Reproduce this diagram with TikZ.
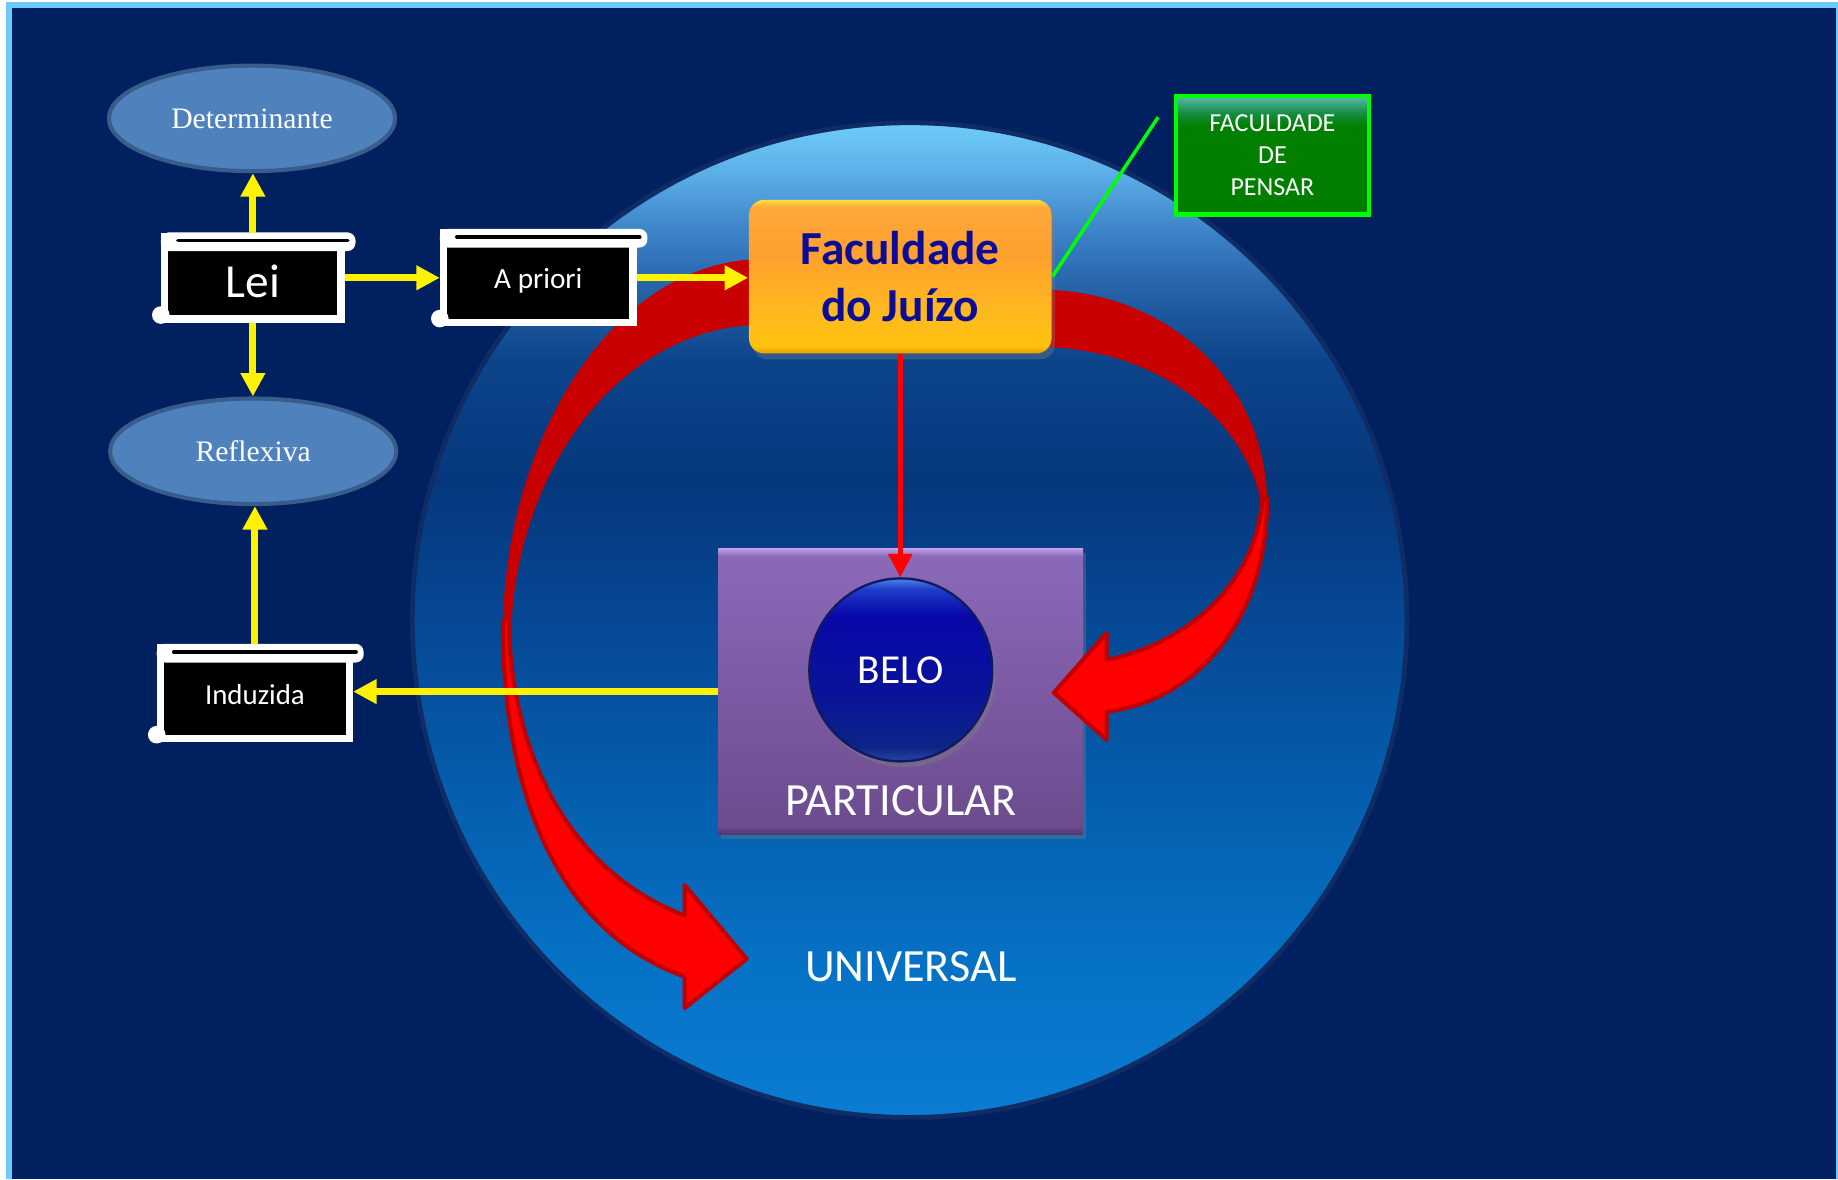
\documentclass[tikz,border=0pt]{standalone}
\usepackage{fontspec}
\setmainfont{Carlito}
\newfontfamily\ovalfont{Liberation Serif}
\usetikzlibrary{arrows.meta, positioning, shapes.geometric, shadows}

\definecolor{navybg}{RGB}{0,32,96}
\definecolor{framebl}{RGB}{110,200,250}
\definecolor{ovalfill}{RGB}{79,129,189}
\definecolor{ovalrim}{RGB}{56,93,138}
\definecolor{facblue}{RGB}{12,12,150}
\definecolor{rimblue}{RGB}{15,45,100}
\definecolor{darkred}{RGB}{200,0,0}
\definecolor{redrim}{RGB}{192,0,0}
\definecolor{lime}{RGB}{0,255,0}
\definecolor{beloRim}{RGB}{16,26,96}
% disc colours, bottom to top
\definecolor{dA}{RGB}{10,124,210}
\definecolor{dB}{RGB}{6,114,198}
\definecolor{dC}{RGB}{5,97,177}
\definecolor{dD}{RGB}{6,72,149}
\definecolor{dE}{RGB}{6,55,124}
\definecolor{dF}{RGB}{12,68,138}
\definecolor{dG}{RGB}{36,97,166}
\definecolor{dH}{RGB}{60,130,200}
\definecolor{dI}{RGB}{92,175,232}
\definecolor{dJ}{RGB}{111,204,249}
\pgfdeclareverticalshading{discshade}{100bp}{color(0bp)=(dA); color(25bp)=(dA);
  color(32.5bp)=(dB); color(40bp)=(dC); color(50bp)=(dD); color(57bp)=(dE);
  color(63bp)=(dF); color(66.5bp)=(dG); color(69.5bp)=(dH); color(72.5bp)=(dI);
  color(75bp)=(dJ); color(100bp)=(dJ)}
\definecolor{fA}{RGB}{230,160,0}
\definecolor{fB}{RGB}{255,194,14}
\definecolor{fC}{RGB}{255,186,30}
\definecolor{fD}{RGB}{255,160,46}
\definecolor{fE}{RGB}{255,168,58}
\definecolor{fF}{RGB}{255,224,64}
\pgfdeclareverticalshading{facshade}{100bp}{color(0bp)=(fA); color(25bp)=(fA);
  color(27.5bp)=(fB); color(37.5bp)=(fC); color(57.5bp)=(fD); color(72.5bp)=(fE);
  color(75bp)=(fF); color(100bp)=(fF)}
\definecolor{pA}{RGB}{80,52,112}
\definecolor{pB}{RGB}{108,76,142}
\definecolor{pC}{RGB}{139,105,185}
\definecolor{pD}{RGB}{192,160,238}
\pgfdeclareverticalshading{purpleshade}{100bp}{color(0bp)=(pA); color(25bp)=(pA);
  color(26.5bp)=(pB); color(73.7bp)=(pC); color(75bp)=(pD); color(100bp)=(pD)}
\definecolor{bA}{RGB}{40,70,160}
\definecolor{bB}{RGB}{12,36,135}
\definecolor{bC}{RGB}{10,18,154}
\definecolor{bD}{RGB}{8,8,168}
\definecolor{bE}{RGB}{30,60,200}
\definecolor{bF}{RGB}{80,130,235}
\pgfdeclareverticalshading{beloshade}{100bp}{color(0bp)=(bA); color(25bp)=(bA);
  color(29bp)=(bB); color(45bp)=(bC); color(65bp)=(bD); color(72bp)=(bE);
  color(75bp)=(bF); color(100bp)=(bF)}
\definecolor{gA}{RGB}{0,125,0}
\definecolor{gB}{RGB}{0,128,0}
\definecolor{gC}{RGB}{20,140,60}
\definecolor{gD}{RGB}{90,185,175}
\pgfdeclareverticalshading{pensarshade}{100bp}{color(0bp)=(gA); color(25bp)=(gA);
  color(62.5bp)=(gB); color(67.5bp)=(gC); color(75bp)=(gD); color(100bp)=(gD)}

\newcommand{\scrollroll}[1]{%
  \fill[white, rounded corners=0.7mm] ([yshift=0.05mm]#1.north west) rectangle ([xshift=0.9mm,yshift=-1.55mm]#1.north east);
  \draw[black, line width=0.3mm, line cap=round] ([xshift=1.45mm,yshift=-0.65mm]#1.north west) -- ([xshift=0.25mm,yshift=-0.65mm]#1.north east);
  \fill[white] ([yshift=0.65mm]#1.south west) circle[radius=0.75mm];
}

\begin{document}
\begin{tikzpicture}[x=0.01cm, y=-0.01cm,
	scroll/.style = {draw=white, fill=black, line width=0.65mm, text=white, inner sep=0pt, text height=1.1ex, text depth=0pt},
	oval/.style = {ellipse, draw=ovalrim, fill=ovalfill, line width=0.35mm, minimum width=2.44cm, minimum height=0.9cm, inner sep=0pt, text=white, font=\ovalfont\fontsize{7.2}{8.6}\selectfont},
	facbox/.style = {rounded corners=1.3mm, shade, shading=facshade, minimum width=2.58cm, minimum height=1.31cm, align=center, text=facblue, font=\bfseries\fontsize{11.5}{13.9}\selectfont, drop shadow={opacity=0.35, shadow xshift=0.3mm, shadow yshift=-0.5mm}},
	pensar/.style = {draw=lime, line width=0.35mm, shade, shading=pensarshade, minimum width=1.65cm, minimum height=1.01cm, align=center, text=white, font=\fontsize{6.3}{7.7}\selectfont},
	pbox/.style = {shade, shading=purpleshade, minimum width=3.11cm, minimum height=2.44cm, drop shadow={opacity=0.35, shadow xshift=0.2mm, shadow yshift=-0.4mm}},
	disc/.style = {circle, shade, shading=beloshade, draw=beloRim, line width=0.2mm, minimum size=1.56cm, inner sep=0pt, text=white, font=\fontsize{10}{12}\selectfont, drop shadow={opacity=0.4, shadow xshift=0.3mm, shadow yshift=-0.5mm}},
	bigtxt/.style = {text=white, inner sep=0pt, font=\fontsize{11.2}{13}\selectfont},
	yarrow/.style = {draw=yellow, line width=0.6mm, -{Triangle[length=2mm, width=2mm]}},
	rarrow/.style = {draw=red, line width=0.4mm, -{Triangle[length=2mm, width=2mm]}},
	gline/.style = {draw=lime, line width=0.3mm},
	redback/.style = {fill=darkred},
	redfront/.style = {fill=red, draw=redrim, line width=0.35mm, line join=round}
     ]
		\useasboundingbox (0,0) rectangle (1568,1006);
		\fill[white] (0,0) rectangle (1568,1006);
		\fill[framebl] (5,1.5) rectangle (1568,1006);
		\fill[navybg] (10,7) rectangle (1566,1006);
%
		\shadedraw[shading=discshade, draw=rimblue, line width=0.4mm] (776,529) circle[radius=4.24cm];
%
		\node[pbox] (part) at (768.5,590) {};
		\node[disc] (belo) at ([yshift=1.85mm] part.center) {BELO};
		\node[bigtxt] (parttxt) at ([yshift=3mm] part.south) {PARTICULAR};
		\node[bigtxt] (univ) at (777,825) {UNIVERSAL};
%
		\fill[redback] (652,221) .. controls (520,221) and (429,380) .. (429,540)
		  -- (436,540) .. controls (440,400) and (530,277) .. (652,277) -- cycle;
		\filldraw[redfront] (429,530) .. controls (429,700) and (490,800) .. (584,833)
		  -- (584,860) -- (637,818) -- (584,755) -- (584,781)
		  .. controls (490,745) and (436,650) .. (434,530) -- cycle;
%
		\fill[redback] (885,247) .. controls (1000,247) and (1081,330) .. (1081,430)
		  -- (1077,432) .. controls (1060,350) and (980,296) .. (885,296) -- cycle;
		\filldraw[redfront] (1081,425) .. controls (1081,540) and (1010,600) .. (944,607)
		  -- (944,631) -- (899,591) -- (944,540) -- (944,563)
		  .. controls (1010,550) and (1072,500) .. (1077,425) -- cycle;
%
		\node[facbox] (fac) at (768,236) {Faculdade\\do Juízo};
		\node[pensar] (pensar) at (1085.5,132.5) {FACULDADE\\DE\\PENSAR};
		\coordinate (gtip) at (988,100);
%
		\node[scroll, minimum width=1.505cm, minimum height=0.70cm, text height=2ex, font=\fontsize{11.5}{13}\selectfont] (lei) at (215.75,237) {Lei};
		\scrollroll{lei}
		\node[scroll, minimum width=1.615cm, minimum height=0.76cm, font=\fontsize{7.1}{8.5}\selectfont] (apriori) at (459.25,237) {A priori};
		\scrollroll{apriori}
		\node[scroll, minimum width=1.61cm, minimum height=0.77cm, font=\fontsize{7}{8.4}\selectfont] (ind) at (217.5,591.5) {Induzida};
		\scrollroll{ind}
%
		\node[oval] (det) at (215,101) {Determinante};
		\node[oval] (refl) at (216,385) {Reflexiva};
%
		\draw[yarrow] (lei.north) -- (lei.north |- det.south);
		\draw[yarrow] (lei.south) -- (lei.south |- refl.north);
		\draw[yarrow] (lei.east) -- (apriori.west);
		\draw[yarrow] (apriori.east) -- (apriori.east -| fac.west);
		\draw[yarrow] (ind.north) -- (ind.north |- refl.south);
		\draw[yarrow] (part.west) -- (part.west -| ind.east);
		\draw[rarrow] (fac.south) -- (fac.south |- belo.north);
		\draw[gline] (fac.east) -- (gtip);
\end{tikzpicture}
\end{document}
